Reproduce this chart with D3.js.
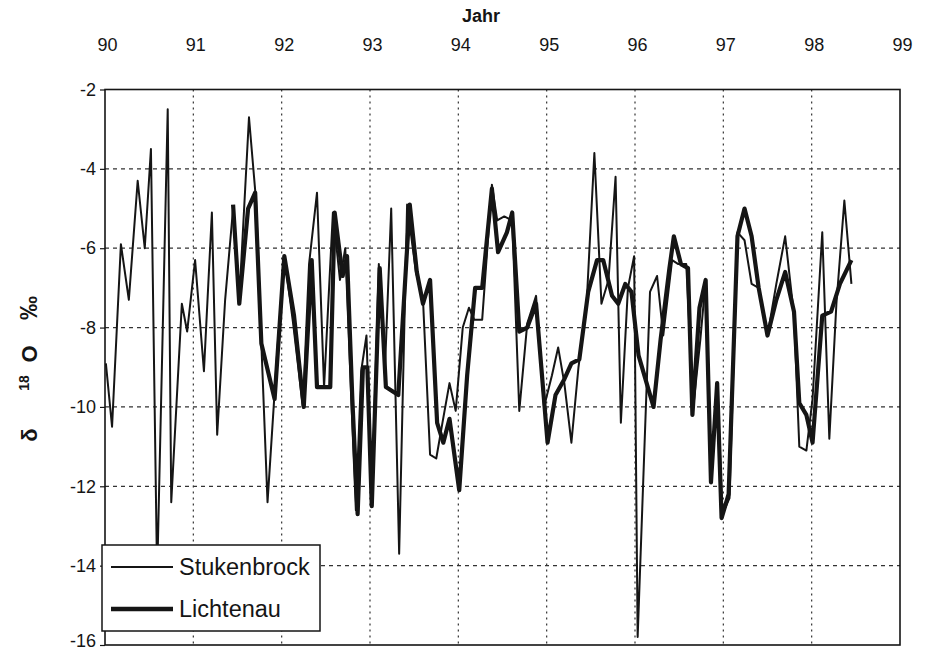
<!DOCTYPE html>
<html>
<head>
<meta charset="utf-8">
<script src="https://cdn.jsdelivr.net/npm/d3@7/dist/d3.min.js"></script>
<style>
  html, body { margin: 0; padding: 0; background: #fff; }
  svg { display: block; font-family: "Liberation Sans", Arial, sans-serif; }
</style>
</head>
<body>
<svg id="chart" width="929" height="654"></svg>
<script>
// δ18O monthly values, time given in decimal years (90 = 1990)
const stukDates = [90.01,90.08,90.18,90.27,90.37,90.45,90.52,90.59,90.71,90.75,90.87,90.93,
  91.02,91.12,91.21,91.27,91.36,91.45,91.52,91.63,91.71,91.77,91.84,91.95,
  92.03,92.13,92.24,92.31,92.40,92.48,92.58,92.66,92.72,92.79,92.84,92.90,92.96,
  93.02,93.10,93.17,93.24,93.33,93.42,93.52,93.60,93.68,93.75,93.82,93.90,93.97,
  94.05,94.12,94.18,94.27,94.38,94.44,94.52,94.61,94.69,94.78,94.88,94.97,
  95.06,95.13,95.20,95.28,95.36,95.45,95.54,95.62,95.70,95.78,95.84,95.92,95.99,
  96.03,96.17,96.25,96.32,96.42,96.49,96.58,96.66,96.74,96.80,96.86,96.93,96.99,
  97.07,97.16,97.24,97.32,97.40,97.50,97.60,97.70,97.80,97.86,97.94,98.01,
  98.12,98.20,98.28,98.37,98.45];
const stukValues = [-8.9,-10.5,-5.9,-7.3,-4.3,-6.0,-3.5,-14.3,-2.5,-12.4,-7.4,-8.1,
  -6.3,-9.1,-5.1,-10.7,-7.3,-5.0,-7.3,-2.7,-4.8,-8.4,-12.4,-8.6,
  -6.2,-7.9,-10.0,-6.4,-4.6,-9.5,-5.1,-6.8,-6.0,-9.9,-12.6,-9.1,-8.2,
  -12.4,-6.4,-9.0,-5.0,-13.7,-4.9,-6.6,-7.3,-11.2,-11.3,-10.4,-9.4,-10.1,
  -8.0,-7.5,-7.8,-7.8,-4.4,-5.3,-5.2,-5.3,-10.1,-7.9,-7.2,-10.0,
  -9.2,-8.5,-9.4,-10.9,-9.0,-7.5,-3.6,-7.4,-6.8,-4.2,-10.4,-7.0,-6.2,
  -15.8,-7.1,-6.7,-8.2,-6.3,-6.4,-6.4,-10.0,-8.3,-6.8,-11.9,-9.4,-12.7,
  -12.3,-5.6,-5.8,-6.9,-7.0,-8.2,-6.9,-5.7,-7.7,-11.0,-11.1,-9.8,
  -5.6,-10.8,-7.4,-4.8,-6.9];

const lichDates = [91.45,91.52,91.62,91.70,91.77,91.92,
  92.03,92.14,92.25,92.34,92.40,92.55,92.60,92.69,92.74,92.80,92.86,92.92,92.97,
  93.02,93.11,93.18,93.25,93.32,93.45,93.53,93.60,93.68,93.76,93.83,93.90,
  94.01,94.10,94.19,94.27,94.38,94.45,94.55,94.61,94.69,94.78,94.88,
  95.01,95.10,95.20,95.28,95.37,95.47,95.57,95.64,95.74,95.81,95.89,95.96,
  96.04,96.21,96.29,96.39,96.44,96.52,96.60,96.65,96.73,96.80,96.86,96.93,96.98,
  97.06,97.16,97.24,97.32,97.40,97.50,97.60,97.70,97.80,97.86,97.94,
  98.01,98.12,98.22,98.32,98.45];
const lichValues = [-4.9,-7.4,-5.0,-4.6,-8.4,-9.8,
  -6.2,-7.7,-10.0,-6.3,-9.5,-9.5,-5.1,-6.7,-6.2,-9.8,-12.7,-9.0,-9.0,
  -12.5,-6.5,-9.5,-9.6,-9.7,-4.9,-6.6,-7.4,-6.8,-10.4,-10.9,-10.3,
  -12.1,-9.2,-7.0,-7.0,-4.5,-6.1,-5.6,-5.1,-8.1,-8.0,-7.4,
  -10.9,-9.7,-9.3,-8.9,-8.8,-7.1,-6.3,-6.3,-7.2,-7.4,-6.9,-7.1,
  -8.7,-10.0,-8.3,-6.5,-5.7,-6.4,-6.5,-10.2,-7.5,-6.8,-11.9,-9.4,-12.8,
  -12.2,-5.7,-5.0,-5.7,-7.0,-8.2,-7.3,-6.6,-7.6,-9.9,-10.2,
  -10.9,-7.7,-7.6,-6.9,-6.3];

const yearTicks = [90,91,92,93,94,95,96,97,98,99];
const valueTicks = [-2,-4,-6,-8,-10,-12,-14,-16];
const seriesNames = ["Stukenbrock", "Lichtenau"];

const svg = d3.select("#chart");
const x = d3.scaleLinear().domain([90, 99]).range([105, 900]);
const y = d3.scaleLinear().domain([-16, -2]).range([645, 89.5]);
const ink = "#151515";

// grid
svg.append("g").selectAll("line").data(valueTicks.slice(1, -1)).join("line")
  .attr("x1", x(90)).attr("x2", x(99))
  .attr("y1", d => y(d)).attr("y2", d => y(d))
  .attr("stroke", "#333").attr("stroke-width", 1.2).attr("stroke-dasharray", "4,4");
svg.append("g").selectAll("line").data(yearTicks.slice(1, -1)).join("line")
  .attr("x1", d => x(d)).attr("x2", d => x(d))
  .attr("y1", y(-2)).attr("y2", y(-16))
  .attr("stroke", "#333").attr("stroke-width", 1.2).attr("stroke-dasharray", "2,4");

// top axis with year labels
const xAxis = d3.axisTop(x).tickValues(yearTicks).tickSize(0).tickPadding(0).tickFormat(d3.format("d"));
svg.append("g").attr("transform", "translate(2,51)").call(xAxis)
  .call(g => g.select(".domain").remove())
  .call(g => g.selectAll("text").attr("font-size", 18).attr("fill", ink)
    .attr("font-family", "Liberation Sans, Arial, sans-serif"));

svg.append("text").attr("x", 481).attr("y", 22).attr("text-anchor", "middle")
  .attr("font-size", 18).attr("font-weight", "bold").attr("fill", ink).text("Jahr");

// left axis
const yAxis = d3.axisLeft(y).tickValues(valueTicks).tickSize(5).tickPadding(4)
  .tickFormat(d => d3.format("d")(d).replace("−", "-"));
svg.append("g").attr("transform", `translate(${x(90)},0)`).call(yAxis)
  .call(g => g.select(".domain").remove())
  .call(g => g.selectAll("line").attr("stroke", ink).attr("stroke-width", 1.2))
  .call(g => g.selectAll("text").attr("font-size", 18).attr("fill", ink)
    .attr("font-family", "Liberation Sans, Arial, sans-serif"))
  .call(g => g.selectAll(".tick").filter(d => d === -16).select("text").attr("dy", "0.1em"));

// y title, set in spaced pieces along the rotated baseline
const titleParts = [
  { t: "δ", at: 435, size: 22, shift: 0 },
  { t: "18", at: 383, size: 14, shift: -8 },
  { t: "O", at: 354, size: 22, shift: 0 },
  { t: "‰", at: 308, size: 24, shift: 0 }
];
const yt = svg.append("g").attr("font-weight", "bold").attr("fill", ink);
titleParts.forEach(p => {
  yt.append("text").attr("transform", `translate(${37 + p.shift},${p.at}) rotate(-90)`)
    .attr("text-anchor", "middle").attr("font-size", p.size).text(p.t);
});

// series
const line = d3.line().x(d => x(d[0])).y(d => y(d[1]));
const stuk = stukDates.map((d, i) => [d, stukValues[i]]);
const lich = lichDates.map((d, i) => [d, lichValues[i]]);
svg.append("path").datum(stuk).attr("d", line).attr("fill", "none")
  .attr("stroke", ink).attr("stroke-width", 2).attr("stroke-linejoin", "round");
svg.append("path").datum(lich).attr("d", line).attr("fill", "none")
  .attr("stroke", ink).attr("stroke-width", 4.2).attr("stroke-linejoin", "round");

// frame
svg.append("rect").attr("x", x(90)).attr("y", y(-2)).attr("width", x(99) - x(90)).attr("height", y(-16) - y(-2))
  .attr("fill", "none").attr("stroke", ink).attr("stroke-width", 1.6);

// legend
const lg = svg.append("g");
lg.append("rect").attr("x", 102).attr("y", 545).attr("width", 218).attr("height", 86)
  .attr("fill", "#fff").attr("stroke", ink).attr("stroke-width", 1.5);
const widths = [2, 4.6];
seriesNames.forEach((name, i) => {
  const yy = 567 + i * 42;
  lg.append("line").attr("x1", 111).attr("x2", 173).attr("y1", yy).attr("y2", yy)
    .attr("stroke", ink).attr("stroke-width", widths[i]);
  lg.append("text").attr("x", 179).attr("y", yy).attr("dy", "0.34em")
    .attr("font-size", 23.5).attr("fill", ink).text(name);
});
</script>
</body>
</html>
